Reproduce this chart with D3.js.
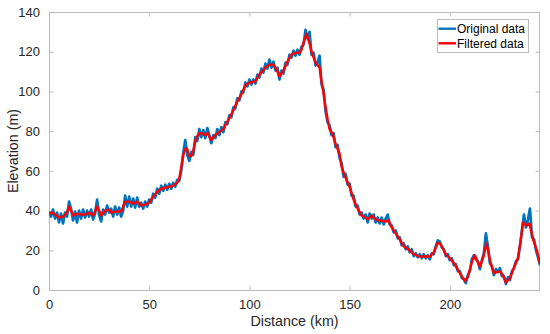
<!DOCTYPE html>
<html>
<head>
<meta charset="utf-8">
<script src="https://cdn.jsdelivr.net/npm/d3@7"></script>
<style>
  body { margin: 0; background: #fff; }
  svg { display: block; font-family: "Liberation Sans", Arial, Helvetica, sans-serif; }
</style>
</head>
<body>
<div id="chart"></div>
<script>
// Raw elevation, one reading per km (0..245)
var originalDist = d3.range(0, 246);
var originalElev = [
  39.5, 37, 40.5, 36, 39, 34, 38.5, 33.5, 39, 37,
  44.5, 41, 35, 39.5, 34, 40, 36, 40.5, 36.5, 40,
  37, 40.5, 35.5, 38.5, 45.5, 38, 34.5, 40.5, 38, 42.5,
  39, 41, 37, 42, 38, 41.5, 37, 40, 47.5, 42,
  47, 42, 46, 41.5, 46.5, 42, 44, 41, 44.5, 42,
  45.5, 44, 48.5, 46.5, 51, 48.5, 52.5, 50, 53, 50.5,
  53.5, 51, 54, 52, 55.5, 55, 60, 69, 75.5, 68,
  65, 69.5, 68, 77, 75, 81, 77, 80.5, 76.5, 81.5,
  78, 74, 78, 76.5, 81, 78, 82, 79.5, 84.5, 83.5,
  88, 87, 92, 91.5, 96.5, 95.5, 100, 99.5, 104.5, 102.5,
  106, 103.5, 106, 104, 108.5, 107, 111.5, 109.5, 114, 111.5,
  116, 112, 115, 110.5, 112, 106, 110.5, 109, 114.5, 113.5,
  118.5, 117, 120.5, 118, 121, 118.5, 122.5, 123.5, 131, 126.5,
  130, 118.5, 119.5, 113, 114.5, 118, 103.5, 101, 90, 84.5,
  83, 78, 79, 72, 73, 66.5, 64, 57, 58.5, 53,
  53.5, 47.5, 47.5, 42, 42.5, 38, 39, 36, 38, 34,
  38.5, 36, 38, 34, 36.5, 33.5, 36.5, 33, 36, 38,
  33, 32.5, 29, 30, 26, 26.5, 22.5, 23.5, 20.5, 22,
  19, 20.5, 17, 18.5, 16.5, 18, 16, 18, 16, 17.5,
  15.5, 18.5, 18, 22, 25, 24.5, 21.5, 20.5, 17, 18,
  15, 16, 12.5, 13, 9.5, 9.5, 6, 5.5, 3.5, 7.5,
  9.5, 15.5, 17.5, 15.5, 14.5, 10.5, 15, 18.5, 28.5, 22,
  13.5, 12, 7.5, 10.5, 9, 11, 7, 7, 3, 6.5,
  5, 9.5, 11, 14.5, 15.5, 22, 30, 38, 31.5, 35.5,
  41, 26.5, 25.5, 20, 16.5, 12.5
];

// Filtered profile, read at its turning points
var filteredDist = [
  0, 2, 3, 5, 7, 9, 10, 11, 12, 14, 16, 18, 20, 22, 24, 25, 26, 28, 30, 31,
  33, 36, 38, 40, 42, 44, 46, 48, 50, 52, 54, 56, 58, 60, 62, 64, 65, 66, 67, 68,
  69, 70, 71, 72, 73, 74, 75, 76, 78, 79, 81, 83, 85, 87, 88, 90, 92, 94, 96, 98,
  100, 103, 105, 108, 110, 112, 114, 115, 117, 119, 121, 123, 125, 126, 127, 128.5, 130, 131, 133, 135,
  136, 137, 138, 139, 140, 141.5, 143, 145, 146, 148, 150, 152, 154, 156, 158, 159, 161, 163, 165, 168,
  169.5, 171, 173, 175, 177, 180, 182, 185, 188, 190, 192, 194, 195, 196, 198, 201, 203, 205, 207.5, 209,
  211, 212.5, 214, 215, 216.7, 218.3, 219.5, 220, 222, 225, 226.5, 228, 230, 232.5, 234, 235.5, 236.5, 238.3, 239.7, 241.7,
  243.4, 245
];
var filteredElev = [
  38.5, 39, 38, 36.5, 37, 39, 42, 40, 37.5, 38.5, 38, 38, 39, 37.5, 42, 40, 37.5, 40, 40.5, 39,
  39.5, 39.5, 44.5, 44.5, 43.5, 44.5, 42.5, 43, 44, 47, 49.5, 51, 51.5, 52, 52.5, 54, 56, 62, 68, 71,
  71, 67.5, 67.5, 70, 75, 77.5, 79, 79, 78, 79, 75.5, 78, 79.5, 81, 83, 86.5, 90.5, 95, 98.5, 103,
  104.5, 105, 108.5, 112, 113.5, 113.5, 110, 107.5, 110.5, 115, 118.5, 119.5, 119.5, 121, 124.5, 129, 124, 120, 114.5, 112,
  105, 99, 92, 86, 81, 78.5, 73.5, 68.5, 62, 56.5, 52, 45.5, 41, 37.5, 36.5, 35.5, 37.5, 35.5, 35, 34.5,
  35, 31.5, 28.5, 25.5, 22, 20, 18, 16.8, 17, 16.8, 19, 23.8, 23.5, 22, 18, 15, 12, 8.5, 4.5, 6.5,
  14, 17.5, 14, 11.7, 16.5, 23.5, 18, 15, 8.5, 9.5, 7.5, 3.8, 6, 12.5, 16, 26, 34, 32.5, 33.5, 25,
  20, 13.4
];

var xTicks = [0, 50, 100, 150, 200];
var yTicks = [0, 20, 40, 60, 80, 100, 120, 140];
var seriesNames = ['Original data', 'Filtered data'];

var width = 550, height = 334;
var plot = {left: 49, right: 540, top: 12, bottom: 290};
var axisColor = '#bcbcbc', textColor = '#262626';
var colors = ['#0072bd', '#ff0000'];

var x = d3.scaleLinear().domain([0, 245]).range([plot.left, plot.right]);
var y = d3.scaleLinear().domain([0, 140]).range([plot.bottom, plot.top]);

var svg = d3.select('#chart').append('svg')
  .attr('width', width)
  .attr('height', height);

svg.append('defs').append('clipPath').attr('id', 'clip')
  .append('rect')
  .attr('x', plot.left).attr('y', plot.top)
  .attr('width', plot.right - plot.left)
  .attr('height', plot.bottom - plot.top);

// Axes, ticks point inward, box on
var tickLen = 4.5;
var xAxisB = d3.axisBottom(x).tickValues(xTicks).tickSizeInner(-tickLen).tickSizeOuter(0).tickPadding(10);
var xAxisT = d3.axisTop(x).tickValues(xTicks).tickSizeInner(-tickLen).tickSizeOuter(0).tickFormat('');
var yAxisL = d3.axisLeft(y).tickValues(yTicks).tickSizeInner(-tickLen).tickSizeOuter(0).tickPadding(9);
var yAxisR = d3.axisRight(y).tickValues(yTicks).tickSizeInner(-tickLen).tickSizeOuter(0).tickFormat('');

function styleAxis(g) {
  g.select('.domain').remove();
  g.selectAll('line').attr('stroke', axisColor);
  g.selectAll('text').attr('fill', textColor).style('font-size', '13px');
}

svg.append('g').attr('transform', 'translate(0,' + plot.bottom + ')').call(xAxisB).call(styleAxis);
svg.append('g').attr('transform', 'translate(0,' + plot.top + ')').call(xAxisT).call(styleAxis);
svg.append('g').attr('transform', 'translate(' + plot.left + ',0)').call(yAxisL).call(styleAxis);
svg.append('g').attr('transform', 'translate(' + plot.right + ',0)').call(yAxisR).call(styleAxis);

svg.append('rect')
  .attr('x', plot.left + 0.5).attr('y', plot.top + 0.5)
  .attr('width', plot.right - plot.left - 1)
  .attr('height', plot.bottom - plot.top)
  .style('fill', 'none')
  .style('stroke', axisColor);

// Lines
var lines = svg.append('g').attr('clip-path', 'url(#clip)');

var line = d3.line()
  .x(function(d) { return x(d[0]); })
  .y(function(d) { return y(d[1]); });

lines.append('path')
  .datum(d3.zip(originalDist, originalElev))
  .attr('d', line)
  .style('fill', 'none')
  .style('stroke', colors[0])
  .style('stroke-width', 2.7)
  .style('stroke-linejoin', 'round');

lines.append('path')
  .datum(d3.zip(filteredDist, filteredElev))
  .attr('d', line)
  .style('fill', 'none')
  .style('stroke', colors[1])
  .style('stroke-width', 2.4)
  .style('stroke-linejoin', 'round');

// Axis labels
svg.append('text')
  .attr('x', (plot.left + plot.right) / 2)
  .attr('y', 326)
  .style('text-anchor', 'middle')
  .style('font-size', '14.3px')
  .style('fill', textColor)
  .text('Distance (km)');

svg.append('text')
  .attr('transform', 'translate(18,' + (plot.top + plot.bottom) / 2 + ') rotate(-90)')
  .style('text-anchor', 'middle')
  .style('font-size', '14.3px')
  .style('fill', textColor)
  .text('Elevation (m)');

// Legend
var legend = svg.append('g').attr('transform', 'translate(437,19)');
legend.append('rect')
  .attr('x', 0.5).attr('y', 0.5)
  .attr('width', 91).attr('height', 33)
  .style('fill', '#fff')
  .style('stroke', axisColor);

var item = legend.selectAll('g.item').data(seriesNames).enter().append('g')
  .attr('class', 'item')
  .attr('transform', function(d, i) { return 'translate(0,' + (9.7 + i * 14.6) + ')'; });

item.append('line')
  .attr('x1', 1.5).attr('x2', 19)
  .style('stroke', function(d, i) { return colors[i]; })
  .style('stroke-width', 2.4);

item.append('text')
  .attr('x', 20)
  .attr('dy', '0.36em')
  .style('font-size', '12px')
  .style('fill', '#000')
  .text(function(d) { return d; });
</script>
</body>
</html>
